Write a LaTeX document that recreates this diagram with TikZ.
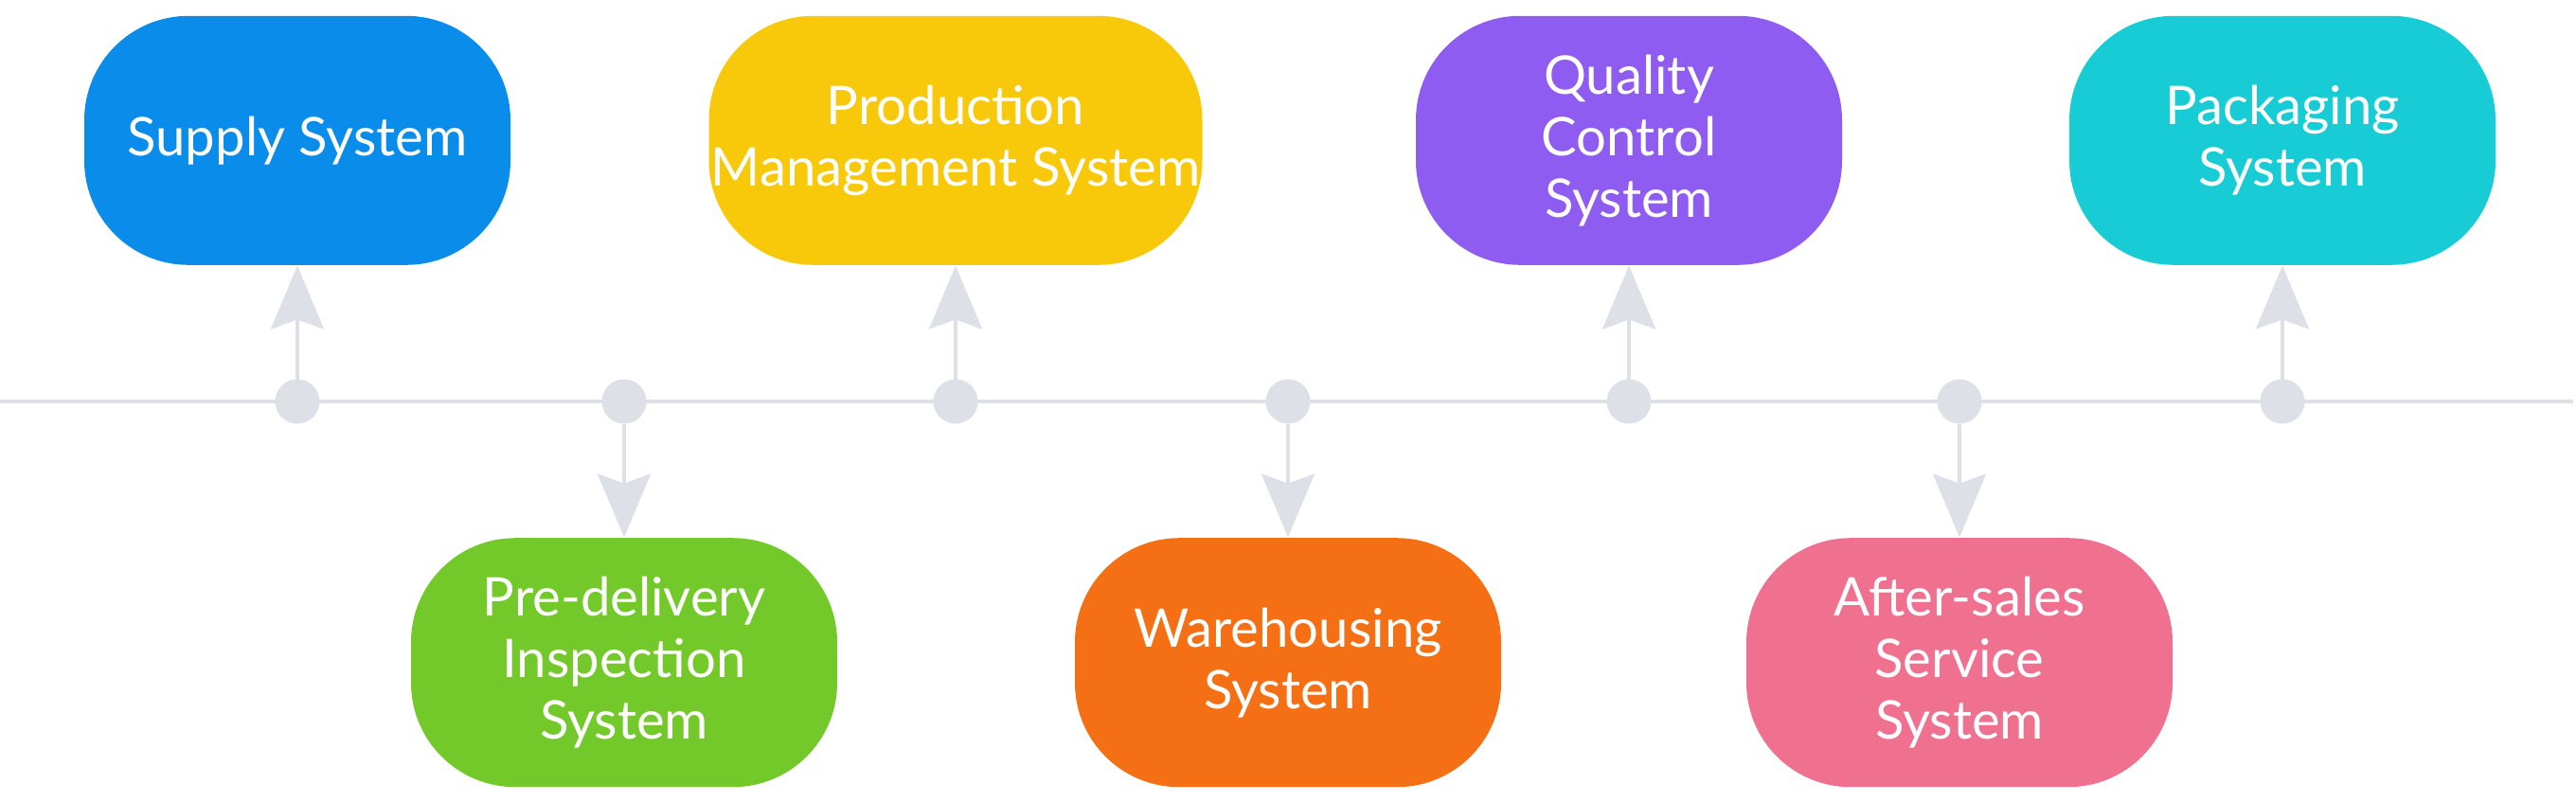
\documentclass[tikz,border=0pt]{standalone}
\usepackage{fontspec}
\setmainfont{Lato}
\usetikzlibrary{positioning,arrows.meta}
\definecolor{supplyblue}{HTML}{0A8CEB}
\definecolor{prodyellow}{HTML}{F7C90A}
\definecolor{qualpurple}{HTML}{8E5CF0}
\definecolor{packteal}{HTML}{17CCD4}
\definecolor{predgreen}{HTML}{74C92A}
\definecolor{wareorange}{HTML}{F56F14}
\definecolor{afterpink}{HTML}{F07090}
\definecolor{linegray}{HTML}{DDE0E6}
\tikzset{
  sysbox/.style={rectangle, rounded corners=1.1cm, minimum width=4.5cm, minimum height=2.63cm, inner sep=0pt, text=white, align=center, font=\fontsize{16}{18.5}\selectfont},
  hub/.style={circle, fill=linegray, minimum size=4.7mm, inner sep=0pt, outer sep=0pt},
  connect/.style={-{Stealth[length=6.7mm, width=5.6mm, inset=1mm]}, line width=0.4mm, draw=linegray},
  rail/.style={line width=0.4mm, draw=linegray}
}
\begin{document}
\begin{tikzpicture}
	\useasboundingbox (0,0) rectangle (27.2,-8.46);
	\coordinate (lstart) at (0,-4.24);
	\coordinate (lend) at (27.17,-4.24);
	\draw[rail] (lstart) -- (lend);

	% hubs on the rail
	\node[hub] (h1) at (3.14,-4.24) {};
	\node[hub] (h2) [right=2.98cm of h1] {};
	\node[hub] (h3) [right=3.03cm of h2] {};
	\node[hub] (h4) [right=3.04cm of h3] {};
	\node[hub] (h5) [right=3.13cm of h4] {};
	\node[hub] (h6) [right=3.02cm of h5] {};
	\node[hub] (h7) [right=2.94cm of h6] {};

	% systems above
	\node[sysbox, fill=supplyblue] (supply) [above=1.2cm of h1] {Supply System};
	\node[sysbox, fill=prodyellow, minimum width=5.21cm] (prod) [above=1.2cm of h3] {Production\\Management System};
	\node[sysbox, fill=qualpurple] (quality) [above=1.2cm of h5] {Quality\\Control\\System};
	\node[sysbox, fill=packteal] (pack) [above=1.2cm of h7] {Packaging\\System};

	% systems below
	\node[sysbox, fill=predgreen] (predel) [below=1.2cm of h2] {Pre-delivery\\Inspection\\System};
	\node[sysbox, fill=wareorange] (ware) [below=1.2cm of h4] {Warehousing\\System};
	\node[sysbox, fill=afterpink] (after) [below=1.2cm of h6] {After-sales\\Service\\System};

	\path (h1) edge [connect] (supply);
	\path (h3) edge [connect] (prod);
	\path (h5) edge [connect] (quality);
	\path (h7) edge [connect] (pack);
	\path (h2) edge [connect] (predel);
	\path (h4) edge [connect] (ware);
	\path (h6) edge [connect] (after);
\end{tikzpicture}
\end{document}
